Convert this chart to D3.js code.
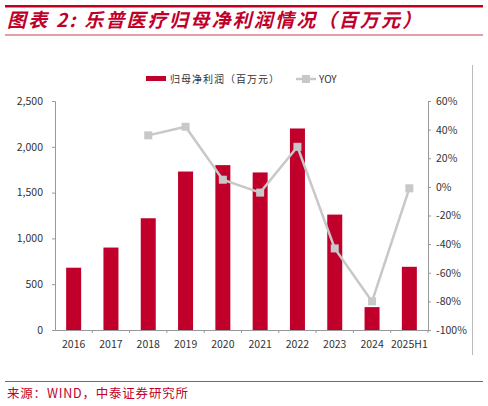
<!DOCTYPE html><html><head><meta charset="utf-8"><script src="https://cdn.jsdelivr.net/npm/d3@7"></script>
<style>body{margin:0;background:#fff}text{font-family:"Noto Sans CJK SC","Liberation Sans",sans-serif}</style></head><body>
<svg id="c" width="488" height="406"></svg>
<script>
const categories=["2016","2017","2018","2019","2020","2021","2022","2023","2024","2025H1"];
const profit=[680,900,1220,1730,1800,1720,2200,1260,250,690];
const yoy=[null,null,36,42,5,-4,28,-43,-80,-1];
const leftTicks=[0,500,1000,1500,2000,2500];
const rightTicks=[-100,-80,-60,-40,-20,0,20,40,60];
const red="#c0002b",grey="#c8c8c8";
const svg=d3.select("#c");
svg.append("rect").attr("x",5).attr("y",5).attr("width",478).attr("height",2.5).attr("fill","#c0001e");
svg.append("rect").attr("x",5).attr("y",34.5).attr("width",478).attr("height",1).attr("fill","#d04050");
svg.append("text").attr("x",7).attr("y",27).attr("fill",red).attr("font-size",19).attr("letter-spacing",2.2).attr("font-style","italic").attr("font-weight","bold").text("图表 2:  乐普医疗归母净利润情况（百万元）");
svg.append("line").attr("x1",472.5).attr("x2",472.5).attr("y1",65).attr("y2",355).attr("stroke","#bbb");
const x=d3.scaleBand().domain(categories).range([55,428]);
const y=d3.scaleLinear().domain([0,2500]).range([330,101]);
const y2=d3.scaleLinear().domain([-100,60]).range([330,101]);
svg.append("g").attr("transform","translate(55,0)").call(d3.axisLeft(y).tickValues(leftTicks).tickFormat(d3.format(",")).tickSize(3))
 .call(g=>{g.selectAll("text").attr("font-size",10.5).attr("fill","#333").attr("x",-12).attr("font-family","Liberation Sans");g.selectAll("line,path").attr("stroke","#999");});
svg.append("g").attr("transform","translate(428,0)").call(d3.axisRight(y2).tickValues(rightTicks).tickFormat(d=>d+"%").tickSize(3))
 .call(g=>{g.selectAll("text").attr("font-size",10.5).attr("fill","#333").attr("x",8).attr("font-family","Liberation Sans");g.selectAll("line,path").attr("stroke","#999");});
svg.append("g").attr("transform","translate(0,330)").call(d3.axisBottom(x).tickSize(3).tickSizeOuter(0))
 .call(g=>{g.selectAll("text").attr("font-size",10.5).attr("fill","#333").attr("dy","1.1em").attr("font-family","Liberation Sans");g.selectAll("line,path").attr("stroke","#999");g.selectAll(".tick line").attr("transform",`translate(${x.bandwidth()/2},0)`);});
svg.selectAll(".bar").data(profit).enter().append("rect").attr("x",(d,i)=>x(categories[i])+x.bandwidth()/2-7.5).attr("width",15)
 .attr("y",d=>y(d)).attr("height",d=>330-y(d)).attr("fill",red);
const pts=yoy.map((v,i)=>({c:categories[i],v})).filter(d=>d.v!==null);
const cx=d=>x(d.c)+x.bandwidth()/2;
svg.append("path").datum(pts).attr("d",d3.line().x(cx).y(d=>y2(d.v))).attr("fill","none").attr("stroke",grey).attr("stroke-width",2.5);
svg.selectAll(".pt").data(pts).enter().append("rect").attr("x",d=>cx(d)-4).attr("y",d=>y2(d.v)-4).attr("width",8).attr("height",8).attr("fill",grey);
const lg=svg.append("g");
lg.append("rect").attr("x",146).attr("y",76).attr("width",20).attr("height",5).attr("fill",red);
lg.append("text").attr("x",170).attr("y",83).attr("font-size",10).attr("letter-spacing",1).attr("fill","#333").text("归母净利润（百万元）");
lg.append("line").attr("x1",296).attr("x2",316).attr("y1",79).attr("y2",79).attr("stroke",grey).attr("stroke-width",2.5);
lg.append("rect").attr("x",302).attr("y",75).attr("width",8).attr("height",8).attr("fill",grey);
lg.append("text").attr("x",319).attr("y",83).attr("font-size",10).attr("fill","#333").attr("font-family","Liberation Sans").text("YOY");
svg.append("rect").attr("x",5).attr("y",381).attr("width",478).attr("height",1).attr("fill","#d04050");
svg.append("text").attr("x",7).attr("y",398).attr("font-size",12.5).attr("letter-spacing",0.8).attr("fill",red).text("来源：WIND，中泰证券研究所");
</script></body></html>
